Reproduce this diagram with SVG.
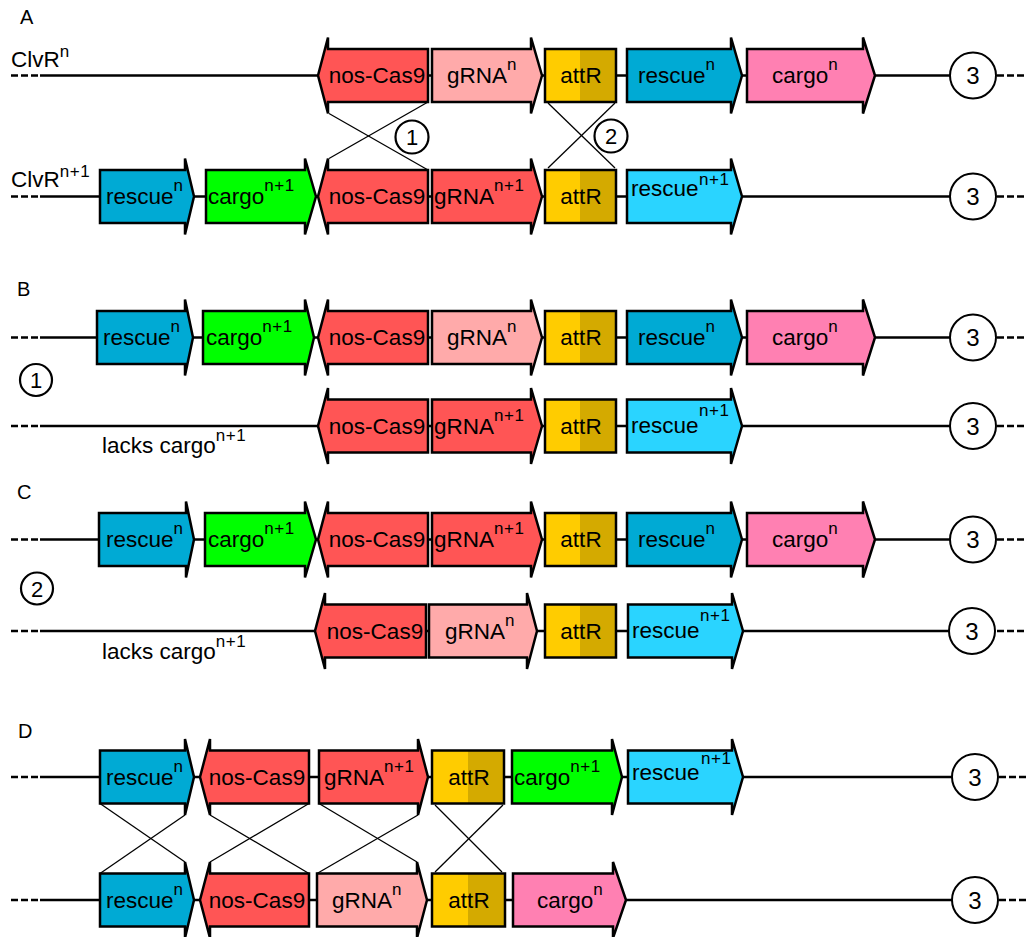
<svg xmlns="http://www.w3.org/2000/svg" width="1026" height="937" viewBox="0 0 1026 937">
<style>
.ln{stroke:#000;stroke-width:2.6;fill:none}
.dash{stroke:#000;stroke-width:2.6;fill:none;stroke-dasharray:7 3}
.x{stroke:#000;stroke-width:1.3;fill:none}
.bx{stroke:#000;stroke-width:2.5;stroke-linejoin:miter}
.t{font-family:"Liberation Sans",Arial,sans-serif;font-size:22.5px;fill:#000}
.s{font-size:17px;letter-spacing:0.5px}
.lbl{font-family:"Liberation Sans",Arial,sans-serif;font-size:20px;fill:#000}
.c3{fill:#fff;stroke:#000;stroke-width:2}
.c1{fill:#fff;stroke:#000;stroke-width:2.2}
.n3{font-family:"Liberation Sans",Arial,sans-serif;font-size:24px;fill:#000;text-anchor:middle}
.n1{font-family:"Liberation Sans",Arial,sans-serif;font-size:22px;fill:#000;text-anchor:middle}
.mid{text-anchor:middle}
.resc{fill:#00AAD4}
.resc1{fill:#2AD4FF}
.carg{fill:#FF80B2}
.carg1{fill:#00FF00}
.cas{fill:#FF5555}
.grn{fill:#FFAAAA}
.grn1{fill:#FF5555}
.aL{fill:#FFCC00}
.aR{fill:#D4AA00}
</style>

<!-- connectors: backbone lines and crossover lines -->
<g id="connectors">
  <!-- A -->
  <line class="dash" x1="11" y1="75.5" x2="41" y2="75.5"/><line class="ln" x1="40" y1="75.5" x2="950" y2="75.5"/><line class="dash" x1="997" y1="75.5" x2="1026" y2="75.5"/>
  <line class="dash" x1="11" y1="196.5" x2="41" y2="196.5"/><line class="ln" x1="40" y1="196.5" x2="950" y2="196.5"/><line class="dash" x1="997" y1="196.5" x2="1026" y2="196.5"/>
  <line class="x" x1="329" y1="113.5" x2="428" y2="170"/><line class="x" x1="428" y1="102" x2="329" y2="158.5"/>
  <line class="x" x1="548" y1="103" x2="615" y2="168"/><line class="x" x1="615" y1="103" x2="548" y2="168"/>
  <!-- B -->
  <line class="dash" x1="11" y1="337.5" x2="41" y2="337.5"/><line class="ln" x1="40" y1="337.5" x2="950" y2="337.5"/><line class="dash" x1="997" y1="337.5" x2="1026" y2="337.5"/>
  <line class="dash" x1="11" y1="426" x2="41" y2="426"/><line class="ln" x1="40" y1="426" x2="950" y2="426"/><line class="dash" x1="997" y1="426" x2="1026" y2="426"/>
  <!-- C -->
  <line class="dash" x1="11" y1="539.5" x2="41" y2="539.5"/><line class="ln" x1="40" y1="539.5" x2="950" y2="539.5"/><line class="dash" x1="997" y1="539.5" x2="1026" y2="539.5"/>
  <line class="dash" x1="11" y1="631" x2="41" y2="631"/><line class="ln" x1="40" y1="631" x2="950" y2="631"/><line class="dash" x1="997" y1="631" x2="1026" y2="631"/>
  <!-- D -->
  <line class="dash" x1="11" y1="777" x2="41" y2="777"/><line class="ln" x1="40" y1="777" x2="952" y2="777"/><line class="dash" x1="999" y1="777" x2="1026" y2="777"/>
  <line class="dash" x1="11" y1="900" x2="41" y2="900"/><line class="ln" x1="40" y1="900" x2="952" y2="900"/><line class="dash" x1="999" y1="900" x2="1026" y2="900"/>
  <line class="x" x1="100" y1="803.5" x2="185" y2="862"/><line class="x" x1="185" y1="815" x2="100" y2="873.5"/>
  <line class="x" x1="210" y1="815" x2="309" y2="873.5"/><line class="x" x1="309" y1="803.5" x2="210" y2="862"/>
  <line class="x" x1="319" y1="803.5" x2="417" y2="862"/><line class="x" x1="418" y1="815" x2="317" y2="873.5"/>
  <line class="x" x1="435" y1="805" x2="502" y2="872"/><line class="x" x1="503" y1="805" x2="435" y2="872"/>
</g>

<!-- panel labels -->
<g id="labels">
  <text class="lbl" x="20" y="24">A</text>
  <text class="lbl" x="17" y="296">B</text>
  <text class="lbl" x="17" y="499">C</text>
  <text class="lbl" x="18" y="738">D</text>
  <text class="t" x="11" y="66.5">ClvR<tspan class="s" dy="-10">n</tspan></text>
  <text class="t" x="11" y="187">ClvR<tspan class="s" dy="-10">n+1</tspan></text>
  <text class="t" x="102" y="453">lacks cargo<tspan class="s" dy="-12">n+1</tspan></text>
  <text class="t" x="102" y="659">lacks cargo<tspan class="s" dy="-12">n+1</tspan></text>
</g>

<!-- ================= PANEL A ================= -->
<g id="A1-nosCas9"><polygon class="bx cas" points="428,49 328,49 328,37.5 318,75.5 328,113.5 328,102 428,102"/><text class="t mid" x="377" y="83">nos-Cas9</text></g>
<g id="A1-gRNA"><polygon class="bx grn" points="432,49 531,49 531,37.5 542,75.5 531,113.5 531,102 432,102"/><text class="t" x="447" y="83">gRNA<tspan class="s" dy="-13">n</tspan></text></g>
<g id="A1-attR"><rect class="aL" x="545" y="49" width="35" height="53"/><rect class="aR" x="580" y="49" width="36" height="53"/><rect class="bx" fill="none" x="545" y="49" width="71" height="53"/><text class="t mid" x="581" y="83">attR</text></g>
<g id="A1-rescue"><polygon class="bx resc" points="627,49 731,49 731,37.5 742,75.5 731,113.5 731,102 627,102"/><text class="t" x="638" y="83">rescue<tspan class="s" dy="-13">n</tspan></text></g>
<g id="A1-cargo"><polygon class="bx carg" points="747,49 863,49 863,37.5 875,75.5 863,113.5 863,102 747,102"/><text class="t" x="772" y="83">cargo<tspan class="s" dy="-13">n</tspan></text></g>
<g id="A1-site3"><circle class="c3" cx="973" cy="75.5" r="23"/><text class="n3" x="973" y="84">3</text></g>

<g id="A2-rescue"><polygon class="bx resc" points="100,170 185,170 185,158.5 194,196.5 185,234.5 185,223 100,223"/><text class="t" x="106" y="204">rescue<tspan class="s" dy="-13">n</tspan></text></g>
<g id="A2-cargo"><polygon class="bx carg1" points="206,170 305,170 305,158.5 316,196.5 305,234.5 305,223 206,223"/><text class="t" x="208" y="204">cargo<tspan class="s" dy="-13">n+1</tspan></text></g>
<g id="A2-nosCas9"><polygon class="bx cas" points="428,170 328,170 328,158.5 318,196.5 328,234.5 328,223 428,223"/><text class="t mid" x="377" y="204">nos-Cas9</text></g>
<g id="A2-gRNA"><polygon class="bx grn1" points="432,170 531,170 531,158.5 542,196.5 531,234.5 531,223 432,223"/><text class="t" x="434" y="204">gRNA<tspan class="s" dy="-13">n+1</tspan></text></g>
<g id="A2-attR"><rect class="aL" x="545" y="170" width="35" height="53"/><rect class="aR" x="580" y="170" width="36" height="53"/><rect class="bx" fill="none" x="545" y="170" width="71" height="53"/><text class="t mid" x="581" y="204">attR</text></g>
<g id="A2-rescue1"><polygon class="bx resc1" points="627,170 731,170 731,158.5 742,196.5 731,234.5 731,223 627,223"/><text class="t" x="631" y="196">rescue<tspan class="s" x="699" y="185">n+1</tspan></text></g>
<g id="A2-site3"><circle class="c3" cx="973" cy="196.5" r="23"/><text class="n3" x="973" y="205">3</text></g>

<g id="A-x1"><circle class="c1" cx="412" cy="137" r="16.5"/><text class="n1" x="412" y="145">1</text></g>
<g id="A-x2"><circle class="c1" cx="611" cy="136" r="16.5"/><text class="n1" x="611" y="144">2</text></g>

<!-- ================= PANEL B ================= -->
<g id="B1-rescue"><polygon class="bx resc" points="97,311 185,311 185,299.5 193,337.5 185,375.5 185,364 97,364"/><text class="t" x="103" y="345">rescue<tspan class="s" dy="-13">n</tspan></text></g>
<g id="B1-cargo"><polygon class="bx carg1" points="203,311 305,311 305,299.5 314,337.5 305,375.5 305,364 203,364"/><text class="t" x="206" y="345">cargo<tspan class="s" dy="-13">n+1</tspan></text></g>
<g id="B1-nosCas9"><polygon class="bx cas" points="428,311 328,311 328,299.5 318,337.5 328,375.5 328,364 428,364"/><text class="t mid" x="377" y="345">nos-Cas9</text></g>
<g id="B1-gRNA"><polygon class="bx grn" points="432,311 531,311 531,299.5 542,337.5 531,375.5 531,364 432,364"/><text class="t" x="447" y="345">gRNA<tspan class="s" dy="-13">n</tspan></text></g>
<g id="B1-attR"><rect class="aL" x="545" y="311" width="35" height="53"/><rect class="aR" x="580" y="311" width="36" height="53"/><rect class="bx" fill="none" x="545" y="311" width="71" height="53"/><text class="t mid" x="581" y="345">attR</text></g>
<g id="B1-rescue2"><polygon class="bx resc" points="627,311 731,311 731,299.5 742,337.5 731,375.5 731,364 627,364"/><text class="t" x="638" y="345">rescue<tspan class="s" dy="-13">n</tspan></text></g>
<g id="B1-cargo2"><polygon class="bx carg" points="747,311 863,311 863,299.5 875,337.5 863,375.5 863,364 747,364"/><text class="t" x="772" y="345">cargo<tspan class="s" dy="-13">n</tspan></text></g>
<g id="B1-site3"><circle class="c3" cx="973" cy="337.5" r="23"/><text class="n3" x="973" y="346">3</text></g>

<g id="B-event1"><circle class="c1" cx="36" cy="380" r="16"/><text class="n1" x="36" y="388">1</text></g>

<g id="B2-nosCas9"><polygon class="bx cas" points="428,399.5 328,399.5 328,388 318,426 328,464 328,452.5 428,452.5"/><text class="t mid" x="377" y="433.5">nos-Cas9</text></g>
<g id="B2-gRNA"><polygon class="bx grn1" points="432,399.5 531,399.5 531,388 542,426 531,464 531,452.5 432,452.5"/><text class="t" x="434" y="433.5">gRNA<tspan class="s" dy="-13">n+1</tspan></text></g>
<g id="B2-attR"><rect class="aL" x="545" y="399.5" width="35" height="53"/><rect class="aR" x="580" y="399.5" width="36" height="53"/><rect class="bx" fill="none" x="545" y="399.5" width="71" height="53"/><text class="t mid" x="581" y="433.5">attR</text></g>
<g id="B2-rescue1"><polygon class="bx resc1" points="627,399.5 731,399.5 731,388 742,426 731,464 731,452.5 627,452.5"/><text class="t" x="631" y="433">rescue<tspan class="s" x="699" y="416">n+1</tspan></text></g>
<g id="B2-site3"><circle class="c3" cx="973" cy="426" r="23"/><text class="n3" x="973" y="434.5">3</text></g>

<!-- ================= PANEL C ================= -->
<g id="C1-rescue"><polygon class="bx resc" points="99,513 186,513 186,501.5 194,539.5 186,577.5 186,566 99,566"/><text class="t" x="106" y="547">rescue<tspan class="s" dy="-13">n</tspan></text></g>
<g id="C1-cargo"><polygon class="bx carg1" points="205,513 305,513 305,501.5 316,539.5 305,577.5 305,566 205,566"/><text class="t" x="208" y="547">cargo<tspan class="s" dy="-13">n+1</tspan></text></g>
<g id="C1-nosCas9"><polygon class="bx cas" points="428,513 328,513 328,501.5 318,539.5 328,577.5 328,566 428,566"/><text class="t mid" x="377" y="547">nos-Cas9</text></g>
<g id="C1-gRNA"><polygon class="bx grn1" points="432,513 531,513 531,501.5 542,539.5 531,577.5 531,566 432,566"/><text class="t" x="434" y="547">gRNA<tspan class="s" dy="-13">n+1</tspan></text></g>
<g id="C1-attR"><rect class="aL" x="545" y="513" width="35" height="53"/><rect class="aR" x="580" y="513" width="36" height="53"/><rect class="bx" fill="none" x="545" y="513" width="71" height="53"/><text class="t mid" x="581" y="547">attR</text></g>
<g id="C1-rescue2"><polygon class="bx resc" points="627,513 731,513 731,501.5 742,539.5 731,577.5 731,566 627,566"/><text class="t" x="638" y="547">rescue<tspan class="s" dy="-13">n</tspan></text></g>
<g id="C1-cargo2"><polygon class="bx carg" points="747,513 863,513 863,501.5 875,539.5 863,577.5 863,566 747,566"/><text class="t" x="772" y="547">cargo<tspan class="s" dy="-13">n</tspan></text></g>
<g id="C1-site3"><circle class="c3" cx="973" cy="539.5" r="23"/><text class="n3" x="973" y="548">3</text></g>

<g id="C-event2"><circle class="c1" cx="37" cy="588.5" r="16"/><text class="n1" x="37" y="596.5">2</text></g>

<g id="C2-nosCas9"><polygon class="bx cas" points="426,604.5 325,604.5 325,593 315,631 325,669 325,657.5 426,657.5"/><text class="t mid" x="375" y="638.5">nos-Cas9</text></g>
<g id="C2-gRNA"><polygon class="bx grn" points="429,604.5 527,604.5 527,593 537,631 527,669 527,657.5 429,657.5"/><text class="t" x="445" y="638.5">gRNA<tspan class="s" dy="-13">n</tspan></text></g>
<g id="C2-attR"><rect class="aL" x="545" y="604.5" width="35" height="53"/><rect class="aR" x="580" y="604.5" width="36" height="53"/><rect class="bx" fill="none" x="545" y="604.5" width="71" height="53"/><text class="t mid" x="581" y="638.5">attR</text></g>
<g id="C2-rescue1"><polygon class="bx resc1" points="628,604.5 732,604.5 732,593 743,631 732,669 732,657.5 628,657.5"/><text class="t" x="632" y="638">rescue<tspan class="s" x="700" y="621">n+1</tspan></text></g>
<g id="C2-site3"><circle class="c3" cx="972" cy="631" r="23"/><text class="n3" x="972" y="639.5">3</text></g>

<!-- ================= PANEL D ================= -->
<g id="D1-rescue"><polygon class="bx resc" points="100,750.5 185,750.5 185,739 194,777 185,815 185,803.5 100,803.5"/><text class="t" x="106" y="784.5">rescue<tspan class="s" dy="-13">n</tspan></text></g>
<g id="D1-nosCas9"><polygon class="bx cas" points="309,750.5 210,750.5 210,739 200,777 210,815 210,803.5 309,803.5"/><text class="t mid" x="257" y="784.5">nos-Cas9</text></g>
<g id="D1-gRNA"><polygon class="bx grn1" points="319,750.5 418,750.5 418,739 428,777 418,815 418,803.5 319,803.5"/><text class="t" x="324" y="784.5">gRNA<tspan class="s" dy="-13">n+1</tspan></text></g>
<g id="D1-attR"><rect class="aL" x="432" y="750.5" width="36" height="53"/><rect class="aR" x="468" y="750.5" width="36" height="53"/><rect class="bx" fill="none" x="432" y="750.5" width="72" height="53"/><text class="t mid" x="469" y="784.5">attR</text></g>
<g id="D1-cargo"><polygon class="bx carg1" points="512,750.5 612,750.5 612,739 622,777 612,815 612,803.5 512,803.5"/><text class="t" x="514" y="784.5">cargo<tspan class="s" dy="-13">n+1</tspan></text></g>
<g id="D1-rescue1"><polygon class="bx resc1" points="628,750.5 732,750.5 732,739 743,777 732,815 732,803.5 628,803.5"/><text class="t" x="632" y="780">rescue<tspan class="s" x="701" y="764">n+1</tspan></text></g>
<g id="D1-site3"><circle class="c3" cx="975" cy="777" r="23"/><text class="n3" x="975" y="785.5">3</text></g>

<g id="D2-rescue"><polygon class="bx resc" points="100,873.5 185,873.5 185,862 194,900 185,938 185,926.5 100,926.5"/><text class="t" x="106" y="907.5">rescue<tspan class="s" dy="-13">n</tspan></text></g>
<g id="D2-nosCas9"><polygon class="bx cas" points="309,873.5 210,873.5 210,862 200,900 210,938 210,926.5 309,926.5"/><text class="t mid" x="257" y="907.5">nos-Cas9</text></g>
<g id="D2-gRNA"><polygon class="bx grn" points="317,873.5 417,873.5 417,862 427,900 417,938 417,926.5 317,926.5"/><text class="t" x="332" y="907.5">gRNA<tspan class="s" dy="-13">n</tspan></text></g>
<g id="D2-attR"><rect class="aL" x="432" y="873.5" width="36" height="53"/><rect class="aR" x="468" y="873.5" width="37" height="53"/><rect class="bx" fill="none" x="432" y="873.5" width="73" height="53"/><text class="t mid" x="469" y="907.5">attR</text></g>
<g id="D2-cargo"><polygon class="bx carg" points="513,873.5 613,873.5 613,862 626,900 613,938 613,926.5 513,926.5"/><text class="t" x="537" y="907.5">cargo<tspan class="s" dy="-13">n</tspan></text></g>
<g id="D2-site3"><circle class="c3" cx="975" cy="900" r="23"/><text class="n3" x="975" y="908.5">3</text></g>
</svg>
